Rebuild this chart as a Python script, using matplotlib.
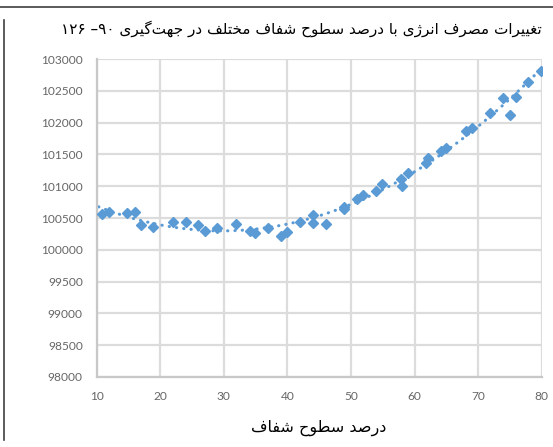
import numpy as np
import matplotlib
matplotlib.use("Agg")
import matplotlib.pyplot as plt
from matplotlib.lines import Line2D

# glazing percentage vs. energy use
glazing_pct = [10.9, 11.9, 14.8, 16.0, 16.9, 18.9, 22.0, 24.0, 25.9, 27.0,
               28.9, 31.9, 34.1, 34.9, 37.0, 39.0, 40.0, 42.0, 44.0, 44.0,
               46.1, 48.9, 48.9, 50.9, 51.9, 54.0, 54.9, 57.8, 58.0, 59.0,
               61.8, 62.1, 64.1, 64.9, 68.1, 69.0, 71.8, 73.9, 75.0, 75.9,
               77.9, 79.9]
energy_use = [100563, 100602, 100574, 100590, 100390, 100354, 100437, 100437, 100385, 100296,
              100343, 100401, 100291, 100259, 100338, 100217, 100275, 100432, 100547, 100417,
              100401, 100678, 100637, 100799, 100854, 100932, 101030, 101108, 101003, 101203,
              101370, 101440, 101553, 101608, 101868, 101910, 102146, 102392, 102119, 102410,
              102634, 102811]

y_ticks = [98000, 98500, 99000, 99500, 100000, 100500, 101000, 101500, 102000, 102500, 103000]
x_ticks = [10, 20, 30, 40, 50, 60, 70, 80]

title_fa = "تغییرات مصرف انرژی با درصد سطوح شفاف مختلف در جهت\u200cگیری"
title_num = "۱۲۶ –۹۰ "
xlabel_fa = "درصد سطوح شفاف"

# --- minimal Persian shaping (matplotlib has no bidi / joining) ---
FORMS = {  # isolated, final, initial, medial
    "ا": ("\uFE8D", "\uFE8E", None, None),
    "ب": ("\uFE8F", "\uFE90", "\uFE91", "\uFE92"),
    "ت": ("\uFE95", "\uFE96", "\uFE97", "\uFE98"),
    "ج": ("\uFE9D", "\uFE9E", "\uFE9F", "\uFEA0"),
    "ح": ("\uFEA1", "\uFEA2", "\uFEA3", "\uFEA4"),
    "خ": ("\uFEA5", "\uFEA6", "\uFEA7", "\uFEA8"),
    "د": ("\uFEA9", "\uFEAA", None, None),
    "ر": ("\uFEAD", "\uFEAE", None, None),
    "ژ": ("\uFB8A", "\uFB8B", None, None),
    "س": ("\uFEB1", "\uFEB2", "\uFEB3", "\uFEB4"),
    "ش": ("\uFEB5", "\uFEB6", "\uFEB7", "\uFEB8"),
    "ص": ("\uFEB9", "\uFEBA", "\uFEBB", "\uFEBC"),
    "ط": ("\uFEC1", "\uFEC2", "\uFEC3", "\uFEC4"),
    "غ": ("\uFECD", "\uFECE", "\uFECF", "\uFED0"),
    "ف": ("\uFED1", "\uFED2", "\uFED3", "\uFED4"),
    "ل": ("\uFEDD", "\uFEDE", "\uFEDF", "\uFEE0"),
    "م": ("\uFEE1", "\uFEE2", "\uFEE3", "\uFEE4"),
    "ن": ("\uFEE5", "\uFEE6", "\uFEE7", "\uFEE8"),
    "ه": ("\uFEE9", "\uFEEA", "\uFEEB", "\uFEEC"),
    "و": ("\uFEED", "\uFEEE", None, None),
    "ی": ("\uFBFC", "\uFBFD", "\uFBFE", "\uFBFF"),
    "گ": ("\uFB92", "\uFB93", "\uFB94", "\uFB95"),
}


def joins_next(ch):
    return ch in FORMS and FORMS[ch][2] is not None


def shape(text):
    out = []
    for i, ch in enumerate(text):
        if ch == "\u200c":
            continue
        if ch not in FORMS:
            out.append(ch)
            continue
        prev = text[i - 1] if i > 0 else ""
        nxt = text[i + 1] if i + 1 < len(text) else ""
        left = joins_next(prev)
        right = joins_next(ch) and nxt in FORMS
        iso, fin, ini, med = FORMS[ch]
        if left and right:
            out.append(med)
        elif left:
            out.append(fin)
        elif right:
            out.append(ini)
        else:
            out.append(iso)
    return "".join(out)[::-1]


blue = "#5B9BD5"
grey_txt = "#666666"

fig = plt.figure(figsize=(5.53, 4.47), dpi=100)
ax = fig.add_axes([0.1749, 0.1566, 0.8047, 0.7114])

x = np.array(glazing_pct)
y = np.array(energy_use)
coef = np.polyfit(x, y, 2)
xs = np.linspace(x.min() - 0.6, x.max(), 200)
ax.plot(xs, np.polyval(coef, xs), color=blue, lw=2.2, linestyle=(0, (0.1, 2.3)),
        dash_capstyle="round", zorder=2)
ax.plot(x, y, linestyle="none", marker="D", ms=5.4, color=blue, zorder=3)

ax.set_xlim(10, 80)
ax.set_ylim(98000, 103000)
ax.set_xticks(x_ticks)
ax.set_yticks(y_ticks)
ax.grid(True, color="#DCDCDC", lw=1.6)
ax.set_axisbelow(True)
for s in ["top", "right"]:
    ax.spines[s].set_visible(False)
for s in ["left", "bottom"]:
    ax.spines[s].set_color("#C8C8C8")
    ax.spines[s].set_linewidth(1.6)
ax.tick_params(length=0, colors=grey_txt, labelsize=8.6, pad=10)
for lab in ax.get_xticklabels() + ax.get_yticklabels():
    lab.set_fontfamily("Lato")

fig.text(0.9796, 0.935, title_num + shape(title_fa), ha="right", va="center",
         fontsize=11, family="DejaVu Sans", color="black")
fig.text(0.577, 0.043, shape(xlabel_fa), ha="center", va="center",
         fontsize=11.5, family="DejaVu Sans", color="black")

# border remnants of the original screenshot
fig.add_artist(Line2D([0, 1], [1 - 7 / 447, 1 - 7 / 447], color="#404040", lw=1.2))
fig.add_artist(Line2D([3.5 / 553, 3.5 / 553], [1 - 20 / 447, 1 - 440 / 447], color="#404040", lw=1.2))

fig.savefig("out.png", dpi=100)
